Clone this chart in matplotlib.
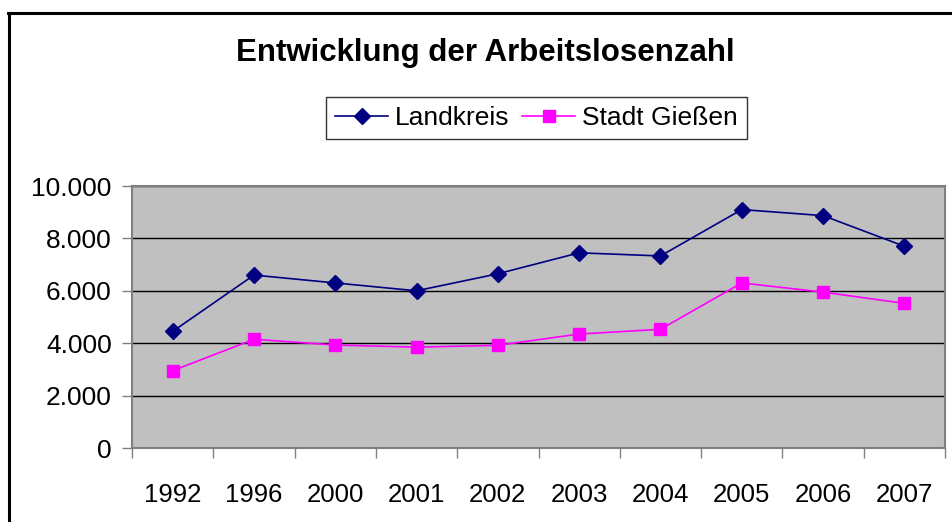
import matplotlib
matplotlib.use("Agg")
import matplotlib.pyplot as plt
from matplotlib.lines import Line2D
from matplotlib.ticker import FuncFormatter, FixedLocator

plt.rcParams['font.family'] = ['Liberation Sans', 'DejaVu Sans']

jahre = ["1992", "1996", "2000", "2001", "2002", "2003", "2004", "2005", "2006", "2007"]
landkreis = [4450, 6600, 6300, 6000, 6650, 7450, 7330, 9100, 8870, 7700]
stadt_giessen = [2950, 4150, 3930, 3850, 3920, 4350, 4530, 6300, 5950, 5520]

fig = plt.figure(figsize=(9.52, 5.22), dpi=100)
ax = fig.add_axes([132 / 952, 74 / 522, 813 / 952, 262 / 522])
ax.set_facecolor('#C0C0C0')

x = list(range(len(jahre)))
ax.plot(x, landkreis, color='#000080', lw=1.2, marker='D', ms=8,
        label='Landkreis', zorder=3)
ax.plot(x, stadt_giessen, color='#FF00FF', lw=1.2, marker='s', ms=8.5,
        label='Stadt Gießen', zorder=3)

ax.set_xlim(-0.5, len(jahre) - 0.5)
ax.set_ylim(0, 10000)
ax.set_yticks(range(0, 10001, 2000))
ax.yaxis.set_major_formatter(FuncFormatter(lambda v, p: f"{int(v):,}".replace(",", ".")))
ax.grid(axis='y', color='black', lw=1)
ax.set_axisbelow(True)

ax.set_xticks(x)
ax.set_xticklabels(jahre)
ax.tick_params(axis='x', which='major', length=0, pad=25, labelsize=18.5)
ax.xaxis.set_minor_locator(FixedLocator([i - 0.5 for i in range(len(jahre) + 1)]))
ax.tick_params(axis='x', which='minor', length=7, width=1, color='#808080')
ax.tick_params(axis='y', length=7, width=1, color='#808080', labelsize=19, pad=7.5)

for s in ax.spines.values():
    s.set_color('#808080')
    s.set_linewidth(1.5)

fig.text(0.51, 0.898, "Entwicklung der Arbeitslosenzahl", ha='center', va='center',
         fontsize=22.5, fontweight='bold')

leg = fig.legend(loc='center', bbox_to_anchor=(0.5635, 0.774), ncol=2, fontsize=19,
                 frameon=True, fancybox=False, edgecolor='black', handlelength=2.0,
                 handletextpad=0.25, columnspacing=0.5, borderpad=0.35)
leg.get_frame().set_linewidth(1)

# outer chart border (left and top visible)
fig.add_artist(Line2D([9 / 952, 9 / 952], [0, 1 - 13 / 522], color='black', lw=2.2,
                      transform=fig.transFigure))
fig.add_artist(Line2D([8 / 952, 1], [1 - 13 / 522, 1 - 13 / 522], color='black', lw=2.2,
                      transform=fig.transFigure))

fig.savefig("out.png", dpi=100)
